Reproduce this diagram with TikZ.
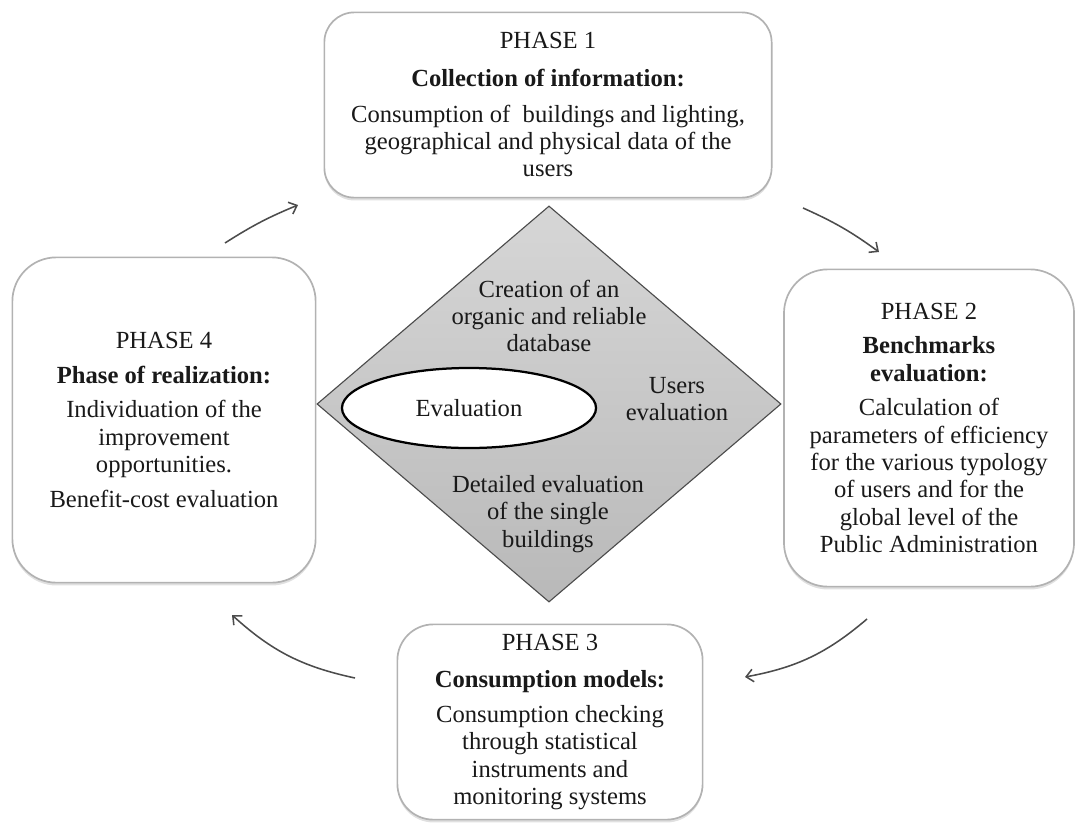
\documentclass[tikz,border=0pt]{standalone}
\usepackage{fontspec}
\setmainfont{Liberation Serif}
\usetikzlibrary{shapes.geometric,shadows,arrows.meta}
\tikzset{
    % boxes
    phase/.style={
        rectangle,
        draw=gray!60,
        line width=1.2pt,
        fill=white,
        align=center,
        inner sep=0pt,
        text=black!90,
        font=\fontsize{17.5}{19.5}\selectfont,
        drop shadow={shadow xshift=0pt, shadow yshift=-2pt, opacity=.35, fill=gray!70}
    },
    core/.style={
        diamond,
        draw=gray!60!black,
        line width=.8pt,
        top color=gray!32,
        bottom color=gray!55,
        inner sep=0pt,
        minimum width=11.6cm,
        minimum height=9.9cm
    },
    eval/.style={
        ellipse,
        draw=black,
        line width=1.6pt,
        fill=white,
        minimum width=6.35cm,
        minimum height=2cm
    },
    core-text/.style={
        align=center,
        text=black!90,
        font=\fontsize{17.5}{19.5}\selectfont
    },
    % arrows
    flow/.style={
        line width=1.1pt,
        color=black!70
    }
}

\begin{document}
\begin{tikzpicture}[x=0.025cm, y=-0.025cm, >={Straight Barb[length=5pt,width=9pt]}]

        \useasboundingbox (0, 0) rectangle (1076, 822);

        % phases
        \node [phase, rounded corners=0.75cm, minimum width=11.18cm, minimum height=4.63cm] (phase-1) at (548, 105)
            {\\[-8pt]PHASE 1\\[7pt] \textbf{Collection of information:}\\[6pt]
             Consumption of \ buildings and lighting,\\ geographical and physical data of the\\ users};
        \node [phase, rounded corners=1.1cm, minimum width=7.25cm, minimum height=7.93cm] (phase-2) at (929, 428)
            {PHASE 2\\[5pt] \textbf{Benchmarks}\\ \textbf{evaluation:}\\[5pt]
             Calculation of\\ parameters of efficiency\\ for the various typology\\ of users and for the\\ global level of the\\ Public Administration};
        \node [phase, rounded corners=0.9cm, minimum width=7.63cm, minimum height=4.88cm] (phase-3) at (550, 722)
            {\\[-8pt]PHASE 3\\[7pt] \textbf{Consumption models:}\\[5pt]
             Consumption checking\\ through statistical\\ instruments and\\ monitoring systems};
        \node [phase, rounded corners=1.1cm, minimum width=7.58cm, minimum height=8.13cm] (phase-4) at (164, 420)
            {PHASE 4\\[5pt] \textbf{Phase of realization:}\\[5pt]
             Individuation of the\\ improvement\\ opportunities.\\[5pt] Benefit-cost evaluation};

        % centre
        \node [core] (core) at (549, 404) {};
        \node [eval] (eval) at (469, 408) {};
        \node [core-text] (eval-text) at (eval) {Evaluation};
        \node [core-text] (database) at (549, 316) {Creation of an\\ organic and reliable\\ database};
        \node [core-text] (users) at (677, 399) {Users\\ evaluation};
        \node [core-text] (buildings) at (548, 514) {Detailed evaluation\\ of the single\\ buildings};

        % arrows
        \coordinate (out-1) at (803, 208);
        \coordinate (in-2)  at (879, 252);
        \coordinate (out-2) at (867, 619);
        \coordinate (in-3)  at (745, 677);
        \coordinate (out-3) at (355, 678);
        \coordinate (in-4)  at (232, 615);
        \coordinate (out-4) at (225, 243);
        \coordinate (in-1)  at (298, 205);

        \foreach \a/\b/\bnd in {1/2/6, 2/3/15, 3/4/15, 4/1/5}
            \draw [->, flow] (out-\a) to [bend left=\bnd] (in-\b);

    \end{tikzpicture}
\end{document}
